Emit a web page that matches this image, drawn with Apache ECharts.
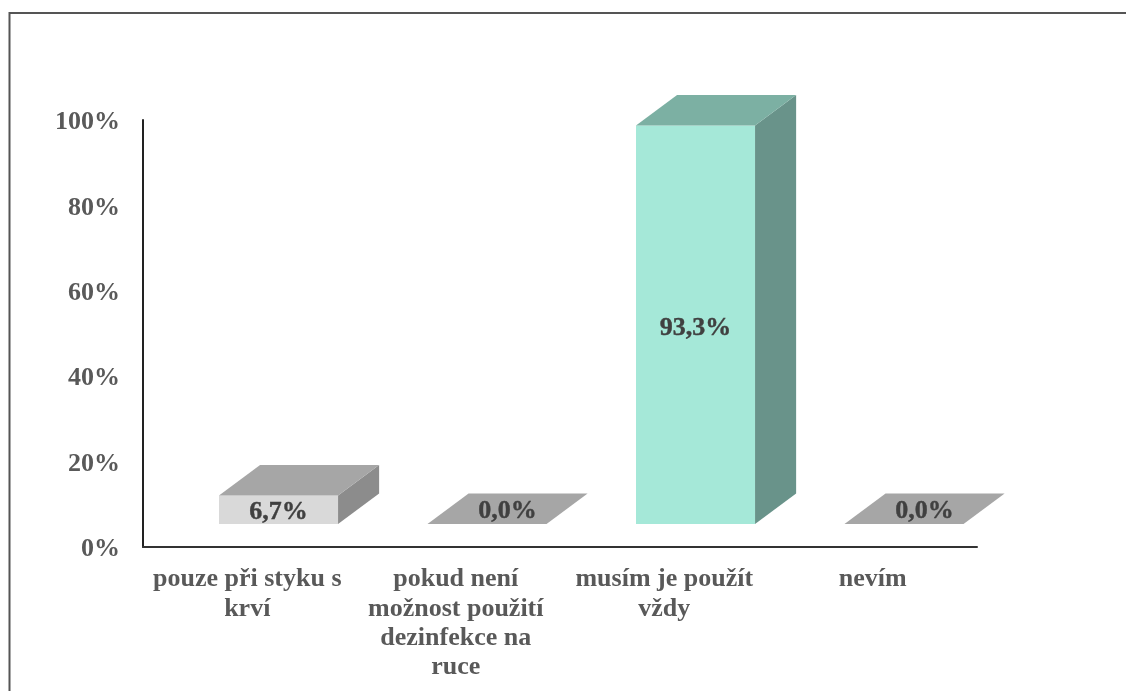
<!DOCTYPE html>
<html>
<head>
<meta charset="utf-8">
<style>html,body{margin:0;padding:0;background:#fff}#c{width:1126px;height:691px}</style>
<script src="https://cdn.jsdelivr.net/npm/echarts@6/dist/echarts.min.js"></script>
</head>
<body>
<div id="c"></div>
<script>
const categories = ['pouze při styku s\nkrví', 'pokud není\nmožnost použití\ndezinfekce na\nruce', 'musím je použít\nvždy', 'nevím'];
const values = [6.7, 0, 93.3, 0];
const yTicks = [0, 20, 40, 60, 80, 100];

const frontColors = ['#d9d9d9', '#d9d9d9', '#a5e8d8', '#d9d9d9'];
const topColors = ['#a6a6a6', '#a6a6a6', '#7cb0a3', '#a6a6a6'];
const sideColors = ['#8c8c8c', '#8c8c8c', '#69938a', '#8c8c8c'];
const FONT = '"Liberation Serif", "Times New Roman", serif';

function renderBar(params, api) {
  const i = api.value(0), v = api.value(1);
  const band = api.size([1, 0])[0];
  const lift = 23, dy = 30.5, dx = band * 0.197, w = band * 0.571;
  const cx = api.coord([i, 0])[0] + band * 0.15;
  const x0 = cx - w / 2, x1 = cx + w / 2;
  const yb = api.coord([i, 0])[1] - lift;
  const yt = api.coord([i, v])[1] - lift;
  const poly = (pts, fill) => ({ type: 'polygon', shape: { points: pts }, style: { fill: fill } });
  const children = [];
  if (v > 0) {
    children.push(poly([[x0, yb], [x1, yb], [x1, yt], [x0, yt]], frontColors[i]));
    children.push(poly([[x1, yb], [x1 + dx, yb - dy], [x1 + dx, yt - dy], [x1, yt]], sideColors[i]));
  }
  children.push(poly([[x0, yt], [x1, yt], [x1 + dx, yt - dy], [x0 + dx, yt - dy]], topColors[i]));
  const label = v.toFixed(1).replace('.', ',') + '%';
  const tx = v > 0 ? cx : cx + dx / 2;
  const ty = v > 0 ? (yb + yt) / 2 + 3 : yt - dy / 2 + 3;
  children.push({
    type: 'text', z2: 10,
    style: { text: label, x: tx, y: ty, align: 'center', verticalAlign: 'middle',
      font: 'bold 26px ' + FONT, fill: '#404040', stroke: '#404040', lineWidth: 0.4 }
  });
  return { type: 'group', children: children };
}

const chart = echarts.init(document.getElementById('c'), null, { renderer: 'canvas' });
chart.setOption({
  animation: false,
  backgroundColor: '#ffffff',
  grid: { left: 143, right: 149, top: 120, bottom: 144, containLabel: false },
  xAxis: {
    type: 'category', data: categories,
    axisTick: { show: false },
    axisLine: { lineStyle: { color: '#333333', width: 2 } },
    axisLabel: { interval: 0, margin: 18, color: '#595959', fontFamily: FONT, fontWeight: 'bold', fontSize: 26, lineHeight: 29.3 }
  },
  yAxis: {
    type: 'value', min: yTicks[0], max: yTicks[yTicks.length - 1], interval: yTicks[1] - yTicks[0],
    splitLine: { show: false },
    axisTick: { show: false },
    axisLine: { show: true, lineStyle: { color: '#222222', width: 2 } },
    axisLabel: {
      margin: 23, formatter: '{v|{value}%}',
      rich: { v: { padding: [5, 0, 0, 0], color: '#595959', fontFamily: FONT, fontWeight: 'bold', fontSize: 26 } }
    }
  },
  series: [{
    type: 'custom', renderItem: renderBar, clip: false,
    encode: { x: 0, y: 1 },
    data: values.map((v, i) => [i, v])
  }],
  graphic: [
    { type: 'line', shape: { x1: 9, y1: 13, x2: 1126, y2: 13 }, style: { stroke: '#555555', lineWidth: 2 } },
    { type: 'line', shape: { x1: 9.5, y1: 12, x2: 9.5, y2: 691 }, style: { stroke: '#555555', lineWidth: 2 } }
  ]
});
</script>
</body>
</html>
